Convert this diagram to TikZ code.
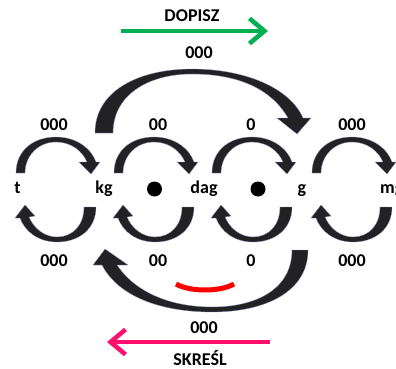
\documentclass[tikz,border=0pt]{standalone}
\usepackage{fontspec}
\setmainfont{Carlito}
\usetikzlibrary{arrows.meta}

\definecolor{dopiszgreen}{RGB}{0,176,80}
\definecolor{skreslpink}{RGB}{255,16,108}
\definecolor{bendgray}{RGB}{34,34,36}

\begin{document}
\begin{tikzpicture}[x=1pt,y=-1pt]
\tikzstyle{lbl} = [font=\bfseries\fontsize{18}{20}\selectfont, anchor=base, inner sep=0pt]
\tikzstyle{bendarrow} = [fill=bendgray, draw=black!55!blue!45, line width=0.3pt]
\tikzstyle{eye} = [circle, fill=black, inner sep=0pt, minimum size=15pt]
\tikzstyle{arrow} = [line width=4.5pt, -{Straight Barb[length=15pt,width=25pt]}]
\clip (0,0) rectangle (396,369);

% top: multiply
\node (dopisz) [lbl] at (192,22) {DOPISZ};
\coordinate (dopiszL) at (121,31);
\coordinate (dopiszR) at (268,31);
\draw [arrow, dopiszgreen] (dopiszL) -- (dopiszR);
\node (bigtop) [lbl] at (199,59) {000};

% big jump kg -> g
\fill [bendarrow] (95,133) .. controls (95,90) and (140,69) .. (192,69)
  .. controls (245,69) and (290,88) .. (303,118) -- (311,118) -- (297,134)
  -- (277,118) -- (288,118) .. controls (272,90) and (240,74) .. (192,74)
  .. controls (148,74) and (113,95) .. (113,133) -- cycle;

% units
\node (t) [lbl] at (17.5,193) {t};
\node (kg) [lbl] at (104,193) {kg};
\node (dag) [lbl] at (204,193) {dag};
\node (g) [lbl] at (302,193) {g};
\node (mg) [lbl, anchor=base west] at (380,193) {mg};
\node (eyeL) [eye] at (154.5,189) {};
\node (eyeR) [eye] at (258,189) {};

% small steps between neighbours
\foreach \dx in {0,98,196,296} {
  \begin{scope}[xshift=\dx pt]
  \fill [bendarrow] (16,173) .. controls (16,150) and (34,137) .. (56,137)
    .. controls (76,137) and (91,148) .. (96,162) -- (100,162) -- (91,174)
    -- (79,162) -- (87,162) .. controls (82,150) and (70,142) .. (56,142)
    .. controls (38,142) and (25,156) .. (25,173) -- cycle;
  \fill [bendarrow] (96,207) .. controls (96,229) and (79,242) .. (57,242)
    .. controls (39,242) and (25,232) .. (20,218) -- (15,218) -- (25,205)
    -- (35,216) -- (29,217) .. controls (34,229) and (45,237) .. (57,237)
    .. controls (72,237) and (84,226) .. (84,207) -- cycle;
  \end{scope}
}

\node (up1) [lbl] at (54,130) {000};
\node (up2) [lbl] at (158,130) {00};
\node (up3) [lbl] at (251,130) {0};
\node (up4) [lbl] at (352,130) {000};
\node (down1) [lbl] at (54,266) {000};
\node (down2) [lbl] at (158,266) {00};
\node (down3) [lbl] at (251,266) {0};
\node (down4) [lbl] at (352,266) {000};

% big jump g -> kg
\fill [bendarrow] (308,250) .. controls (308,292) and (265,312) .. (212,312)
  .. controls (160,312) and (118,296) .. (102,265) -- (93,265) -- (105,249)
  -- (128,265) -- (117,265) .. controls (135,292) and (170,307) .. (212,307)
  .. controls (258,307) and (292,288) .. (292,250) -- cycle;

% smile
\draw [red, line width=5pt] (176,284) .. controls (190,292) and (220,292) .. (234,284);

% bottom: divide
\node (bigbottom) [lbl] at (204,333) {000};
\coordinate (skreslR) at (270,342);
\coordinate (skreslL) at (107,342);
\draw [arrow, skreslpink] (skreslR) -- (skreslL);
\node (skresl) [lbl] at (200,365) {SKREŚL};
\end{tikzpicture}
\end{document}
